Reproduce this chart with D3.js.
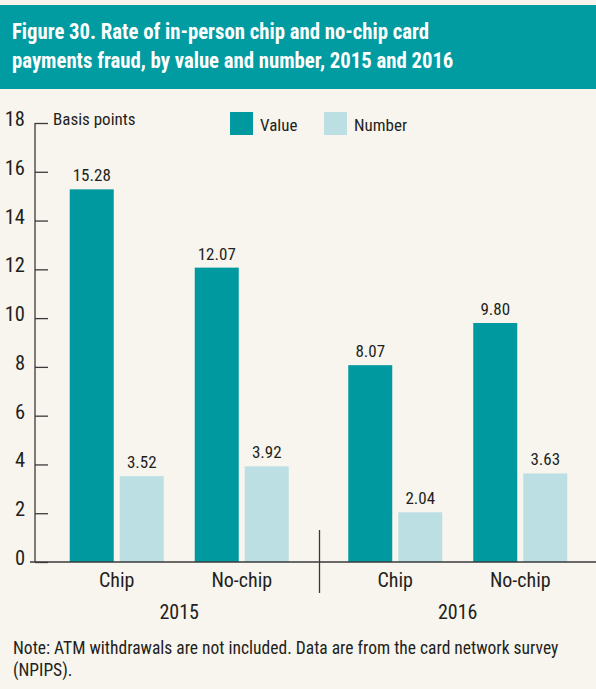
<!DOCTYPE html>
<html>
<head>
<meta charset="utf-8">
<script src="https://cdn.jsdelivr.net/npm/d3@7"></script>
<style>
  html, body { margin: 0; padding: 0; background: #f8f5ef; }
  svg { display: block; }
  text { font-family: "Liberation Sans Narrow", "Roboto Condensed", "Liberation Sans", Arial, sans-serif; fill: #231f20; }
</style>
</head>
<body>
<svg id="chart" width="596" height="689"></svg>
<script>
const years = ["2015", "2016"];
const categories = ["Chip", "No-chip"];
const series = ["Value", "Number"];
const valueData = [15.28, 12.07, 8.07, 9.80];   // 2015 Chip, 2015 No-chip, 2016 Chip, 2016 No-chip
const numberData = [3.52, 3.92, 2.04, 3.63];
const yTicks = [0, 2, 4, 6, 8, 10, 12, 14, 16, 18];
const titleLines = ["Figure 30. Rate of in-person chip and no-chip card", "payments fraud, by value and number, 2015 and 2016"];
const noteLines = ["Note: ATM withdrawals are not included. Data are from the card network survey", "(NPIPS)."];
const unitLabel = "Basis points";

const colors = { Value: "#0099a0", Number: "#bcdfe4" };
const svg = d3.select("#chart");
const W = 596;

// background
svg.append("rect").attr("width", W).attr("height", 689).attr("fill", "#f8f5ef");

// title bar
svg.append("rect").attr("x", 0).attr("y", 5).attr("width", W).attr("height", 84).attr("fill", "#009ca1");
svg.append("g").attr("transform", "translate(12,0) scale(0.922,1)")
  .selectAll("text").data(titleLines).join("text")
  .attr("x", 0).attr("y", (d, i) => 39 + i * 29)
  .style("font-weight", "bold").style("font-size", "22.5px").style("fill", "#ffffff")
  .text(d => d);

// scales
const y = d3.scaleLinear().domain([0, 18]).range([562, 123]);
const x0 = d3.scaleBand().domain(years).range([40, 597]);
const x1 = d3.scalePoint().domain(categories).range([0, x0.bandwidth()]).padding(0.614);
const halfGroup = 47;
const x2 = d3.scaleBand().domain(series).range([-halfGroup, halfGroup]).paddingInner(0.12);

// data rows
const rows = [];
years.forEach((yr, yi) => categories.forEach((c, ci) => {
  const idx = yi * categories.length + ci;
  rows.push({ year: yr, cat: c, series: "Value", v: valueData[idx] });
  rows.push({ year: yr, cat: c, series: "Number", v: numberData[idx] });
}));
const cx = d => x0(d.year) + x1(d.cat);

// bars
svg.append("g").selectAll("rect").data(rows).join("rect")
  .attr("x", d => cx(d) + x2(d.series))
  .attr("y", d => y(d.v))
  .attr("width", x2.bandwidth())
  .attr("height", d => y(0) - y(d.v))
  .attr("fill", d => colors[d.series]);

// value labels
svg.append("g").selectAll("text").data(rows).join("text")
  .attr("x", d => cx(d) + x2(d.series) + x2.bandwidth() / 2)
  .attr("y", d => y(d.v) - 8)
  .attr("text-anchor", "middle")
  .style("font-size", "17px")
  .text(d => d.v.toFixed(2));

// y axis
const yAxis = d3.axisRight(y).tickValues(yTicks).tickSize(13).tickFormat("");
const yg = svg.append("g").attr("transform", "translate(35,0)").call(yAxis);
yg.select(".domain").remove();
yg.selectAll(".tick line").attr("stroke", "#3a3a3a").attr("stroke-width", 1.3);
svg.append("line").attr("x1", 35).attr("x2", 35).attr("y1", y(18)).attr("y2", y(0))
  .attr("stroke", "#3a3a3a").attr("stroke-width", 1.3);
svg.append("g").selectAll("text").data(yTicks).join("text")
  .attr("x", 25).attr("y", d => y(d) + 3)
  .attr("text-anchor", "end")
  .style("font-size", "20.5px")
  .text(d => d);

// unit label
svg.append("text").attr("x", 53).attr("y", y(18) + 2).style("font-size", "17px").text(unitLabel);

// x axis baseline
svg.append("line").attr("x1", 30).attr("x2", W).attr("y1", y(0)).attr("y2", y(0))
  .attr("stroke", "#3a3a3a").attr("stroke-width", 1.3);

// divider between years
const divX = x0("2016") + 1;
svg.append("line").attr("x1", divX).attr("x2", divX).attr("y1", 530).attr("y2", 593)
  .attr("stroke", "#3a3a3a").attr("stroke-width", 1.3);

// category labels
const catRows = [];
years.forEach(yr => categories.forEach(c => catRows.push({ year: yr, cat: c })));
svg.append("g").selectAll("text").data(catRows).join("text")
  .attr("x", d => x0(d.year) + x1(d.cat))
  .attr("y", 587)
  .attr("text-anchor", "middle")
  .style("font-size", "20px")
  .text(d => d.cat);

// year labels
svg.append("g").selectAll("text").data(years).join("text")
  .attr("x", d => x0(d) + x0.bandwidth() / 2)
  .attr("y", 619)
  .attr("text-anchor", "middle")
  .style("font-size", "20px")
  .text(d => d);

// legend
const legend = svg.append("g");
const legendX = [230, 324];
series.forEach((s, i) => {
  legend.append("rect").attr("x", legendX[i]).attr("y", 112).attr("width", 23).attr("height", 23).attr("fill", colors[s]);
  legend.append("text").attr("x", legendX[i] + 30).attr("y", 131).style("font-size", "17px").text(s);
});

// note
svg.append("g").selectAll("text").data(noteLines).join("text")
  .attr("x", 13).attr("y", (d, i) => 654 + i * 22)
  .style("font-size", "17.5px")
  .text(d => d);
</script>
</body>
</html>
